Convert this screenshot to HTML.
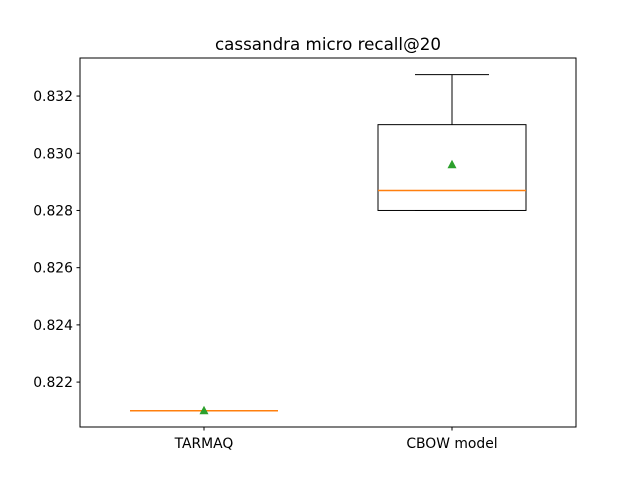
<!DOCTYPE html>
<html><head><meta charset="utf-8"><style>
body{margin:0;background:#fff;font-family:"DejaVu Sans","Liberation Sans",sans-serif}
</style></head><body>
<svg id="chart" width="640" height="480" xmlns="http://www.w3.org/2000/svg" font-family="DejaVu Sans, Liberation Sans, sans-serif">
<rect width="640" height="480" fill="#fff"/>
<text x="328" y="50" text-anchor="middle" font-size="16.7">cassandra micro recall@20</text>
<g id="plot"></g>
<rect x="80" y="58" width="496" height="369" fill="none" stroke="#000" stroke-width="1"/>
</svg>
<script>
const categories=["TARMAQ","CBOW model"];
const whiskerLow=[0.821,0.828];
const q1=[0.821,0.828];
const median=[0.821,0.8287];
const q3=[0.821,0.831];
const whiskerHigh=[0.821,0.83275];
const means=[0.821,0.8296];
const yTicks=[0.822,0.824,0.826,0.828,0.830,0.832];
const yMin=0.82043,yMax=0.83333;
const plotTop=58,plotBottom=427,plotLeft=80,plotRight=576;
const yScale=v=>plotBottom-(v-yMin)/(yMax-yMin)*(plotBottom-plotTop);
const xScale=i=>plotLeft+(i+0.5)/categories.length*(plotRight-plotLeft);
const g=document.getElementById('plot');
const NS="http://www.w3.org/2000/svg";
function mk(tag,attrs,parent){const e=document.createElementNS(NS,tag);for(const k in attrs)e.setAttribute(k,attrs[k]);(parent||g).appendChild(e);return e;}
yTicks.forEach(t=>{
  const yy=yScale(t);
  const tk=mk('line',{x1:plotLeft-3.5,x2:plotLeft,y1:yy,y2:yy,stroke:'#000'});
  
  
  const lb=mk('text',{x:plotLeft-7,y:yy+5,'text-anchor':'end','font-size':'13.9'});
  lb.textContent=t.toFixed(3);
  
  
});
const bw=148,cw=74;
categories.forEach((c,i)=>{
  const cx=xScale(i);
  const grp=mk('g',{});
  
  
  mk('line',{x1:cx,x2:cx,y1:yScale(q1[i]),y2:yScale(whiskerLow[i]),stroke:'#000'},grp);
  mk('line',{x1:cx,x2:cx,y1:yScale(q3[i]),y2:yScale(whiskerHigh[i]),stroke:'#000'},grp);
  mk('line',{x1:cx-cw/2,x2:cx+cw/2,y1:yScale(whiskerLow[i]),y2:yScale(whiskerLow[i]),stroke:'#000'},grp);
  mk('line',{x1:cx-cw/2,x2:cx+cw/2,y1:yScale(whiskerHigh[i]),y2:yScale(whiskerHigh[i]),stroke:'#000'},grp);
  mk('rect',{x:cx-bw/2,y:yScale(q3[i]),width:bw,height:Math.max(0,yScale(q1[i])-yScale(q3[i])),fill:'none',stroke:'#000'},grp);
  mk('line',{x1:cx-bw/2,x2:cx+bw/2,y1:yScale(median[i]),y2:yScale(median[i]),stroke:'#ff7f0e','stroke-width':1.5},grp);
  const my=yScale(means[i]);
  mk('polygon',{points:`${cx},${my-5} ${cx-4.5},${my+3.5} ${cx+4.5},${my+3.5}`,fill:'#2ca02c'},grp);
  const tk=mk('line',{x1:cx,x2:cx,y1:plotBottom,y2:plotBottom+3.5,stroke:'#000'});
  
  
  const lb=mk('text',{x:cx,y:plotBottom+21,'text-anchor':'middle','font-size':'13.9'});
  lb.textContent=c;
  
  
});
</script>
</body></html>
